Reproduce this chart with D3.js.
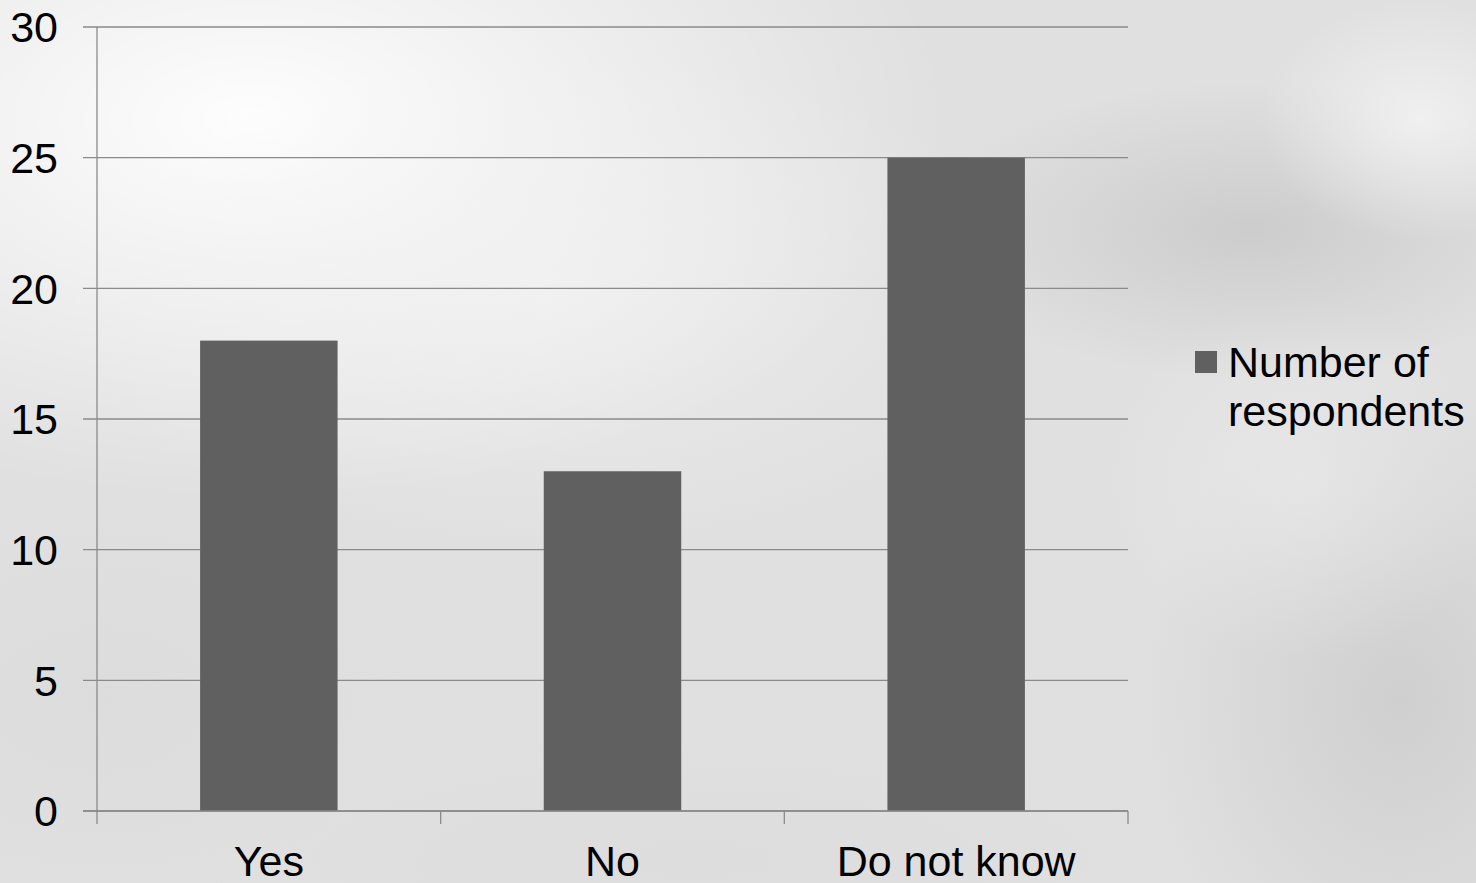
<!DOCTYPE html>
<html>
<head>
<meta charset="utf-8">
<script src="https://cdn.jsdelivr.net/npm/d3@7"></script>
<style>
html,body{margin:0;padding:0;overflow:hidden;}
svg{display:block;}
text{font-family:"Liberation Sans", Arial, sans-serif;fill:#000;}
</style>
</head>
<body>
<svg id="chart" width="1476" height="883"></svg>
<script>
const categories = ["Yes", "No", "Do not know"];
const values = [18, 13, 25];
const seriesName = ["Number of", "respondents"];
const yTicks = [0, 5, 10, 15, 20, 25, 30];

(function () {
const W = 1476, H = 883;
const svg = d3.select("#chart");
const defs = svg.append("defs");

// background (cloudy grey photo approximation)
svg.append("rect").attr("width", W).attr("height", H).attr("fill", "#e0e0e0");
function blob(id, cx, cy, rx, ry, color, op) {
  const g = defs.append("radialGradient").attr("id", id);
  g.append("stop").attr("offset", "0%").attr("stop-color", color).attr("stop-opacity", op);
  g.append("stop").attr("offset", "100%").attr("stop-color", color).attr("stop-opacity", 0);
  svg.append("ellipse").attr("cx", cx).attr("cy", cy).attr("rx", rx).attr("ry", ry).attr("fill", `url(#${id})`);
}
blob("b1", 250, 120, 700, 380, "#ffffff", 0.95);
blob("b2", 550, 300, 500, 250, "#f4f4f4", 0.6);
blob("b3", 1250, 230, 330, 150, "#c4c4c4", 0.7);
blob("b4", 1400, 700, 260, 320, "#c8c8c8", 0.7);
blob("b5", 1420, 120, 160, 120, "#f4f4f4", 0.8);
blob("b6", 1300, 480, 200, 180, "#ececec", 0.6);
blob("b7", 100, 700, 300, 200, "#d8d8d8", 0.5);
blob("b8", 700, 860, 500, 120, "#dadada", 0.5);

const pLeft = 97, pRight = 1128, pTop = 27, pBottom = 811;
const x = d3.scaleBand().domain(categories).range([pLeft, pRight]).padding(0);
const y = d3.scaleLinear().domain([0, 30]).range([pBottom, pTop]);

const gridColor = "#8a8a8a";

// gridlines
svg.append("g").selectAll("line").data(yTicks).join("line")
  .attr("x1", pLeft - 14).attr("x2", pRight)
  .attr("y1", d => y(d)).attr("y2", d => y(d))
  .attr("stroke", gridColor).attr("stroke-width", 1.3);

// y axis line
svg.append("line").attr("x1", pLeft).attr("x2", pLeft).attr("y1", pTop).attr("y2", pBottom)
  .attr("stroke", gridColor).attr("stroke-width", 1.3);

// x category ticks
const xTickPos = categories.map(c => x(c)).concat([x(categories[categories.length-1]) + x.bandwidth()]);
svg.append("g").selectAll("line").data(xTickPos).join("line")
  .attr("x1", d => d).attr("x2", d => d).attr("y1", pBottom).attr("y2", pBottom + 13)
  .attr("stroke", gridColor).attr("stroke-width", 1.3);

// bars
const bw = x.bandwidth() * 0.4;
svg.append("g").selectAll("rect").data(values).join("rect")
  .attr("x", (d, i) => x(categories[i]) + (x.bandwidth() - bw) / 2)
  .attr("width", bw)
  .attr("y", d => y(d))
  .attr("height", d => y(0) - y(d))
  .attr("fill", "#606060");

// redraw baseline over bars
svg.append("line").attr("x1", pLeft - 14).attr("x2", pRight).attr("y1", y(0)).attr("y2", y(0))
  .attr("stroke", gridColor).attr("stroke-width", 1.3);

// y tick labels
svg.append("g").selectAll("text").data(yTicks).join("text")
  .attr("x", 58).attr("y", d => y(d)).attr("dy", "0.36em")
  .attr("text-anchor", "end").attr("font-size", 43)
  .text(d => d);

// x labels
svg.append("g").selectAll("text").data(categories).join("text")
  .attr("x", d => x(d) + x.bandwidth() / 2).attr("y", 876)
  .attr("text-anchor", "middle").attr("font-size", 43)
  .text(d => d);

// legend
svg.append("rect").attr("x", 1195).attr("y", 351).attr("width", 22).attr("height", 22).attr("fill", "#606060");
svg.append("g").selectAll("text").data(seriesName).join("text")
  .attr("x", 1228).attr("y", (d, i) => 377 + i * 49)
  .attr("font-size", 43)
  .text(d => d);
})();
</script>
</body>
</html>
